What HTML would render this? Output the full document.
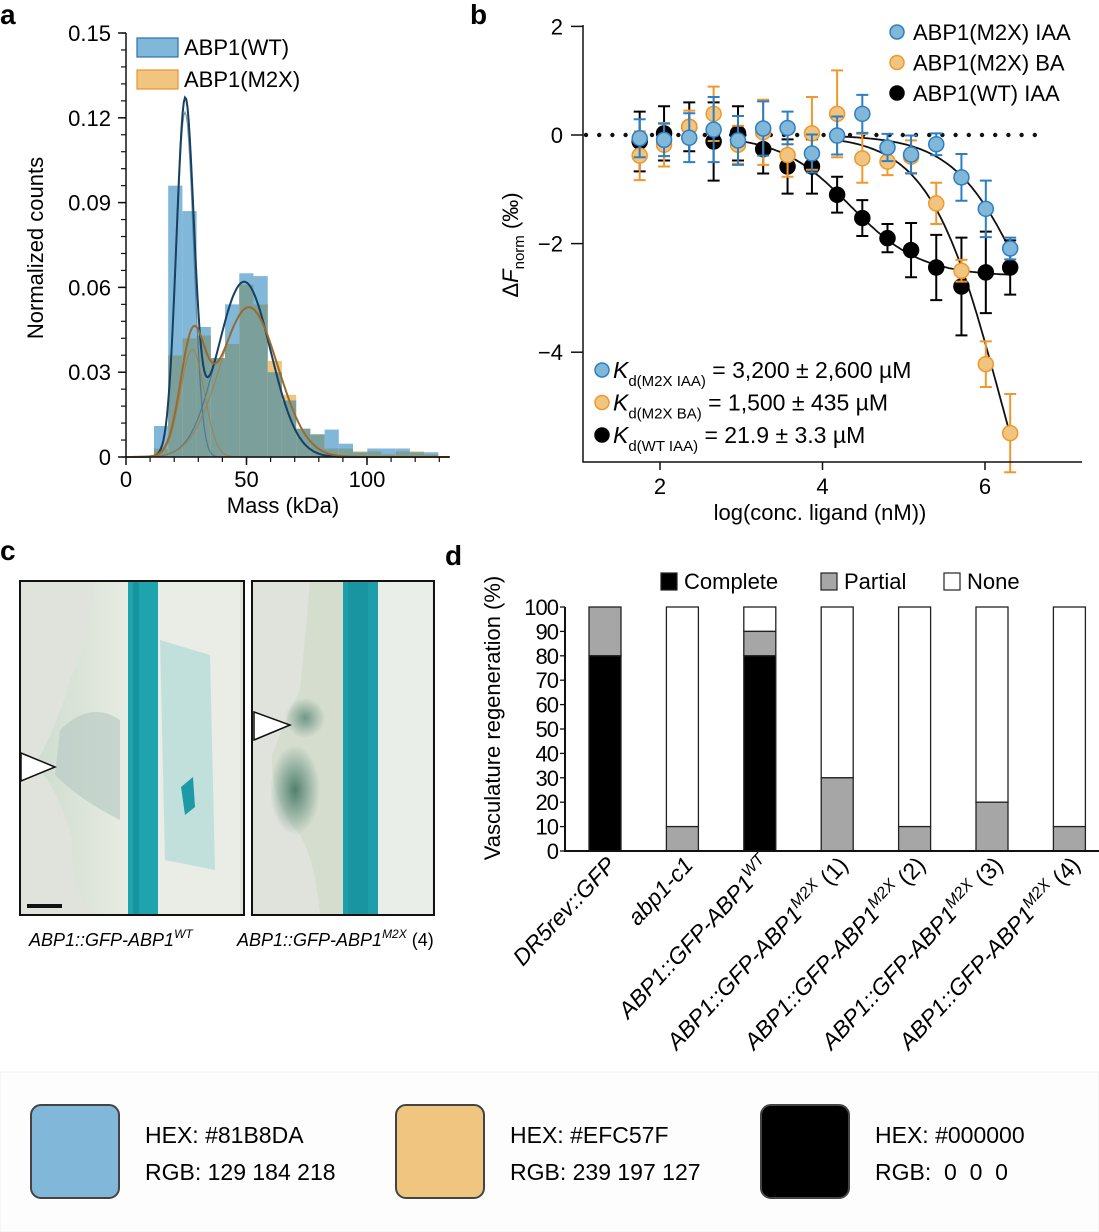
<!DOCTYPE html>
<html><head><meta charset="utf-8">
<style>
html,body{margin:0;padding:0;background:#fff;}
svg{display:block;font-family:"Liberation Sans",Arial,sans-serif;}
</style></head>
<body>
<svg id="fig" width="1099" height="1232" viewBox="0 0 1099 1232" xmlns="http://www.w3.org/2000/svg">
<g id="pa"></g>
<g id="pb"></g>
<g id="pc">
  <text x="0" y="560" font-size="28" font-weight="bold">c</text>
  <defs>
    <linearGradient id="bulgeL" x1="0" x2="1" y1="0" y2="0">
      <stop offset="0" stop-color="#cfdccf"/><stop offset="1" stop-color="#e7ece2"/>
    </linearGradient>
    <radialGradient id="darkR" cx="0.5" cy="0.5" r="0.5">
      <stop offset="0" stop-color="#2f6a55"/><stop offset="1" stop-color="#2f6a55" stop-opacity="0"/>
    </radialGradient>
  </defs>
  <g>
    <rect x="20" y="581" width="224" height="334" fill="#dfe3dc"/>
    <path d="M95 581 L128 581 L128 915 L90 915 Q70 880 72 840 Q60 790 35 765 Q60 720 70 680 Q90 640 95 581Z" fill="url(#bulgeL)"/>
    <path d="M60 730 Q90 700 120 720 L120 820 Q80 800 55 775Z" fill="#b9ccc4" opacity="0.7"/>
    <rect x="158" y="581" width="82" height="334" fill="#e9ede6"/>
    <path d="M160 640 L210 655 L215 870 L165 860Z" fill="#a6d7d6" opacity="0.6"/>
    <rect x="128" y="581" width="30" height="334" fill="#1fa3ad"/>
    <rect x="133" y="581" width="6" height="334" fill="#128a97" opacity="0.6"/>
    <path d="M181 787 l12 -10 l2 30 l-10 8z" fill="#1d9aa5"/>
    <rect x="20" y="581" width="224" height="334" fill="none" stroke="#111" stroke-width="2"/>
    <path d="M21 753 L55 767 L21 781 Z" fill="#fff" stroke="#111" stroke-width="1.5"/>
    <rect x="27" y="904" width="35" height="4" fill="#111"/>
  </g>
  <g>
    <rect x="252" y="581" width="182" height="334" fill="#dfe3dc"/>
    <path d="M310 581 L343 581 L343 915 L320 915 Q315 860 300 835 Q270 800 272 755 Q285 720 300 690 Q305 640 310 581Z" fill="#d5ddcf"/>
    <ellipse cx="295" cy="790" rx="25" ry="45" fill="url(#darkR)" opacity="0.8"/>
    <ellipse cx="305" cy="718" rx="20" ry="20" fill="url(#darkR)" opacity="0.6"/>
    <rect x="378" y="581" width="54" height="334" fill="#eaeee8"/>
    <rect x="343" y="581" width="35" height="334" fill="#1d9ea9"/>
    <rect x="348" y="581" width="20" height="334" fill="#17909c" opacity="0.6"/>
    <rect x="252" y="581" width="182" height="334" fill="none" stroke="#111" stroke-width="2"/>
    <path d="M254 712 L290 725 L254 740 Z" fill="#fff" stroke="#111" stroke-width="1.5"/>
  </g>
  <text x="29" y="946" font-size="18" font-style="italic">ABP1::GFP-ABP1<tspan font-size="12" dy="-8">WT</tspan></text>
  <text x="237" y="946" font-size="18" font-style="italic">ABP1::GFP-ABP1<tspan font-size="12" dy="-8">M2X</tspan><tspan dy="8" font-style="normal"> (4)</tspan></text>
</g>
<g id="pd"></g>
<g id="sw">
  <rect x="0" y="1072" width="1099" height="160" fill="#fdfdfd" stroke="#f0f0f0"/>
  <rect x="31" y="1105" width="88" height="93" rx="10" fill="#81B8DA" stroke="#444" stroke-width="2"/>
  <text x="145" y="1143" font-size="23">HEX: #81B8DA</text>
  <text x="145" y="1180" font-size="23">RGB: 129 184 218</text>
  <rect x="396" y="1105" width="88" height="93" rx="10" fill="#EFC57F" stroke="#444" stroke-width="2"/>
  <text x="510" y="1143" font-size="23">HEX: #EFC57F</text>
  <text x="510" y="1180" font-size="23">RGB: 239 197 127</text>
  <rect x="761" y="1105" width="88" height="93" rx="10" fill="#000000" stroke="#444" stroke-width="2"/>
  <text x="875" y="1143" font-size="23">HEX: #000000</text>
  <text x="875" y="1180" font-size="23" xml:space="preserve">RGB:  0  0  0</text>
</g>
</svg>
<script>
// ---------- Panel a data ----------
const binStart = 11.6;
const binWidth = 5.9;
const wtCounts = [0.011,0.096,0.087,0.046,0.035,0.054,0.065,0.064,0.030,0.020,0.010,0.008,0.0097,0.0047,0.0017,0.003,0.003,0.003,0.0017,0.0017];
const m2xCounts = [0.003,0.036,0.042,0.043,0.035,0.040,0.061,0.054,0.034,0.022,0.010,0.008,0.003,0.003,0.002,0.002,0.001,0.002,0.002,0.001];
const wtFit = [[0.122,24.5,3.6],[0.062,49,11]];
const m2xFit = [[0.038,27.5,5],[0.053,51,12]];
const aYTicks = [0,0.03,0.06,0.09,0.12,0.15];
const aYLabels = ["0","0.03","0.06","0.09","0.12","0.15"];
const aXTicks = [0,50,100];
// ---------- Panel b data ----------
const logConc = [1.75,2.05,2.36,2.66,2.96,3.27,3.57,3.87,4.18,4.49,4.80,5.09,5.40,5.71,6.01,6.31];
const m2xIAA = [-0.06,-0.09,-0.05,0.10,-0.10,0.12,0.13,-0.34,-0.01,0.39,-0.23,-0.36,-0.17,-0.78,-1.36,-2.09];
const m2xIAAErr = [0.35,0.3,0.45,0.6,0.45,0.5,0.3,0.35,0.35,0.35,0.25,0.35,0.2,0.43,0.52,0.2];
const m2xBA = [-0.38,-0.18,0.15,0.39,-0.18,0.05,-0.37,0.03,0.39,-0.43,-0.49,-0.40,-1.26,-2.50,-4.22,-5.49];
const m2xBAErr = [0.45,0.4,0.3,0.5,0.35,0.6,0.4,0.67,0.8,0.45,0.25,0.3,0.38,0.2,0.42,0.72];
const wtIAA = [-0.12,0.03,0.15,-0.12,0.03,-0.26,-0.58,-0.58,-1.10,-1.53,-1.90,-2.12,-2.44,-2.79,-2.53,-2.44];
const wtIAAErr = [0.55,0.5,0.45,0.72,0.5,0.45,0.5,0.5,0.33,0.33,0.26,0.5,0.6,0.9,0.75,0.5];
const fitLogKd = [6.5,6.18,4.34];
const fitAmp = [-5.4,-9.6,-2.6];
const bYTicks = [2,0,-2,-4];
const bYLabels = ["2","0","\u22122","\u22124"];
const bXTicks = [2,4,6];
// ---------- Panel d data ----------
const genotypes = ["DR5rev::GFP","abp1-c1","ABP1::GFP-ABP1|WT","ABP1::GFP-ABP1|M2X| (1)","ABP1::GFP-ABP1|M2X| (2)","ABP1::GFP-ABP1|M2X| (3)","ABP1::GFP-ABP1|M2X| (4)"];
const complete = [80,0,80,0,0,0,0];
const partial = [20,10,10,30,10,20,10];
const dYTicks = [0,10,20,30,40,50,60,70,80,90,100];

const NS="http://www.w3.org/2000/svg";
function mk(parent, tag, attrs, txt){
  const e=document.createElementNS(NS,tag);
  for(const k in attrs) e.setAttribute(k,attrs[k]);
  if(txt!==undefined) e.textContent=txt;
  parent.appendChild(e); return e;
}

// ===== Panel a =====
(function(){
  const g=document.getElementById('pa');
  const X=v=>126+v*2.41, Y=v=>457-v*2826.7;
  let e=mk(g,'text',{x:0,y:24,'font-size':28,'font-weight':'bold'},'a');
   
  for(let i=0;i<wtCounts.length;i++){
    const x0=X(binStart+i*binWidth), w=binWidth*2.41;
    const b=wtCounts[i], o=m2xCounts[i], m=Math.min(b,o);
    e=mk(g,'rect',{x:x0,y:Y(b),width:w,height:Y(0)-Y(b),fill:'#81b8da'});
     
    e=mk(g,'rect',{x:x0,y:Y(o),width:w,height:Y(0)-Y(o),fill:'#efc57f'});
     
    e=mk(g,'rect',{x:x0,y:Y(m),width:w,height:Y(0)-Y(m),fill:'#7b9f9b'});
     
  }
  function gauss(p,v){return p[0]*Math.exp(-Math.pow(v-p[1],2)/(2*p[2]*p[2]));}
  function curve(fn,color,width,op,name){
    let d='';
    for(let v=0;v<=134;v+=0.5){d+=(v===0?'M':'L')+X(v).toFixed(1)+' '+Y(fn(v)).toFixed(1)+' ';}
    const c=mk(g,'path',{d:d,fill:'none',stroke:color,'stroke-width':width,opacity:op});
     
  }
  wtFit.forEach(p=>curve(v=>gauss(p,v),'#3d6a8a',1.2,0.7,'fit-component-wt'));
  m2xFit.forEach(p=>curve(v=>gauss(p,v),'#a67a3f',1.2,0.7,'fit-component-m2x'));
  curve(v=>gauss(wtFit[0],v)+gauss(wtFit[1],v),'#163f60',2,1,'fit-total-wt');
  curve(v=>gauss(m2xFit[0],v)+gauss(m2xFit[1],v),'#9b6a2c',2,1,'fit-total-m2x');
  e=mk(g,'path',{d:'M126 33 V457 H450',fill:'none',stroke:'#111','stroke-width':1.5});
   
  for(let v=0;v<=0.1501;v+=0.006){
    e=mk(g,'line',{x1:121,x2:126,y1:Y(v),y2:Y(v),stroke:'#111','stroke-width':1.2});
     
  }
  aYTicks.forEach((v,i)=>{
    e=mk(g,'line',{x1:118,x2:126,y1:Y(v),y2:Y(v),stroke:'#111','stroke-width':1.5});
     
    e=mk(g,'text',{x:111,y:Y(v)+8,'font-size':22,'text-anchor':'end'},aYLabels[i]);
     
  });
  for(let v=10;v<=130;v+=10){
    e=mk(g,'line',{x1:X(v),x2:X(v),y1:457,y2:462,stroke:'#111','stroke-width':1.2});
     
  }
  aXTicks.forEach(v=>{
    e=mk(g,'line',{x1:X(v),x2:X(v),y1:457,y2:465,stroke:'#111','stroke-width':1.5});
     
    e=mk(g,'text',{x:X(v),y:487,'font-size':22,'text-anchor':'middle'},String(v));
     
  });
  e=mk(g,'text',{x:283,y:513,'font-size':22,'text-anchor':'middle'},'Mass (kDa)');
   
  e=mk(g,'text',{x:0,y:0,'font-size':22,'text-anchor':'middle',transform:'translate(43,248) rotate(-90)'},'Normalized counts');
   
  e=mk(g,'rect',{x:137,y:38,width:41,height:19,fill:'#81b8da',stroke:'#2a72b5','stroke-width':1.2});
   
  e=mk(g,'text',{x:184,y:55,'font-size':22},'ABP1(WT)');
   
  e=mk(g,'rect',{x:137,y:70,width:41,height:19,fill:'#efc57f',stroke:'#e8922e','stroke-width':1.2});
   
  e=mk(g,'text',{x:184,y:87,'font-size':22},'ABP1(M2X)');
   
})();

// ===== Panel b =====
(function(){
  const g=document.getElementById('pb');
  const X=u=>660+(u-2)*81.25, Y=v=>135-v*54.3;
  let e=mk(g,'text',{x:470,y:24,'font-size':28,'font-weight':'bold'},'b');
   
  for(let x=586;x<=1046;x+=13.2){
    e=mk(g,'circle',{cx:x,cy:Y(0),r:2.2,fill:'#111'});
     
  }
  for(let s=0;s<3;s++){
    let d='';
    const x0 = s===2?3.0:4.2;
    for(let u=x0;u<=6.32;u+=0.02){
      const c=Math.pow(10,u-fitLogKd[s]);
      d+=(d?'L':'M')+X(u).toFixed(1)+' '+Y(fitAmp[s]*c/(1+c)).toFixed(1)+' ';
    }
    e=mk(g,'path',{d:d,fill:'none',stroke:'#111','stroke-width':1.8});
     
  }
  const series=[[wtIAA,wtIAAErr,'#000','#000','wt-iaa'],[m2xBA,m2xBAErr,'#efc57f','#f0982e','m2x-ba'],[m2xIAA,m2xIAAErr,'#81b8da','#2d7fc2','m2x-iaa']];
  series.forEach(sr=>{
    const vals=sr[0], errs=sr[1];
    logConc.forEach((u,i)=>{
      const x=X(u), y1=Y(vals[i]+errs[i]), y2=Y(vals[i]-errs[i]);
      e=mk(g,'path',{d:`M${x} ${y1} V${y2} M${x-6} ${y1} H${x+6} M${x-6} ${y2} H${x+6}`,stroke:sr[3],'stroke-width':2,fill:'none'});
       
    });
    logConc.forEach((u,i)=>{
      e=mk(g,'circle',{cx:X(u),cy:Y(vals[i]),r:7.5,fill:sr[2],stroke:sr[3],'stroke-width':1.5});
       
    });
  });
  e=mk(g,'path',{d:'M583 25 V462 H1082',fill:'none',stroke:'#111','stroke-width':1.5});
   
  bYTicks.forEach((v,i)=>{
    e=mk(g,'line',{x1:571,x2:583,y1:Y(v),y2:Y(v),stroke:'#111','stroke-width':1.5});
     
    e=mk(g,'text',{x:563,y:Y(v)+8,'font-size':22,'text-anchor':'end'},bYLabels[i]);
     
  });
  bXTicks.forEach(v=>{
    e=mk(g,'line',{x1:X(v),x2:X(v),y1:462,y2:470,stroke:'#111','stroke-width':1.5});
     
    e=mk(g,'text',{x:X(v),y:494,'font-size':22,'text-anchor':'middle'},String(v));
     
  });
  e=mk(g,'text',{x:820,y:520,'font-size':22,'text-anchor':'middle'},'log(conc. ligand (nM))');
   
  const yt=mk(g,'text',{x:0,y:0,'font-size':22,'text-anchor':'middle',transform:'translate(518,245) rotate(-90)'});
  yt.innerHTML='Δ<tspan font-style="italic">F</tspan><tspan font-size="15" dy="6">norm</tspan><tspan dy="-6"> (‰)</tspan>';
   
  const leg=[['ABP1(M2X) IAA','#81b8da','#2d7fc2'],['ABP1(M2X) BA','#efc57f','#f0982e'],['ABP1(WT) IAA','#000','#000']];
  leg.forEach((l,i)=>{
    e=mk(g,'circle',{cx:897,cy:32+i*30.5,r:7,fill:l[1],stroke:l[2],'stroke-width':1.5});
     
    e=mk(g,'text',{x:913,y:40+i*30.5,'font-size':22},l[0]);
     
  });
  const kd=[['d(M2X IAA)',' = 3,200 ± 2,600 µM','#81b8da','#2d7fc2'],['d(M2X BA)',' = 1,500 ± 435 µM','#efc57f','#f0982e'],['d(WT IAA)',' = 21.9 ± 3.3 µM','#000','#000']];
  kd.forEach((k,i)=>{
    const y=370+i*32.5;
    e=mk(g,'circle',{cx:602,cy:y,r:7,fill:k[2],stroke:k[3],'stroke-width':1.5});
     
    const t=mk(g,'text',{x:613,y:y+8,'font-size':23});
    t.innerHTML='<tspan font-style="italic">K</tspan><tspan font-size="15" dy="8">'+k[0]+'</tspan><tspan dy="-8">'+k[1]+'</tspan>';
     
  });
})();

// ===== Panel d =====
(function(){
  const g=document.getElementById('pd');
  const Y=v=>851-v*2.44, X=i=>605+i*77.4, W=32;
  let e=mk(g,'text',{x:445,y:565,'font-size':28,'font-weight':'bold'},'d');
   
  genotypes.forEach((name,i)=>{
    const x=X(i)-W/2, c=complete[i], p=partial[i];
    e=mk(g,'rect',{x:x,y:Y(100),width:W,height:Y(c+p)-Y(100),fill:'#fff',stroke:'#222','stroke-width':1.3});
     
    if(p>0){e=mk(g,'rect',{x:x,y:Y(c+p),width:W,height:Y(c)-Y(c+p),fill:'#a6a6a6',stroke:'#222','stroke-width':1.3});
     }
    if(c>0){e=mk(g,'rect',{x:x,y:Y(c),width:W,height:Y(0)-Y(c),fill:'#000',stroke:'#222','stroke-width':1.3});
     }
    const parts=name.split('|');
    const t=mk(g,'text',{x:0,y:0,'font-size':23,'font-style':'italic','text-anchor':'end',transform:`translate(${X(i)+12},866) rotate(-47)`});
    let html=parts[0];
    if(parts[1]) html+='<tspan font-size="16" dy="-9">'+parts[1]+'</tspan>';
    if(parts[2]) html+='<tspan dy="9" font-style="normal">'+parts[2]+'</tspan>';
    t.innerHTML=html;
     
  });
  e=mk(g,'path',{d:'M565 607 V851 H1099',fill:'none',stroke:'#111','stroke-width':2});
   
  dYTicks.forEach(v=>{
    e=mk(g,'line',{x1:560,x2:565,y1:Y(v),y2:Y(v),stroke:'#111','stroke-width':1.3});
     
    e=mk(g,'text',{x:558,y:Y(v)+8,'font-size':22,'text-anchor':'end','letter-spacing':'-1'},String(v));
     
  });
  e=mk(g,'text',{x:0,y:0,'font-size':22,'text-anchor':'middle',transform:'translate(500,718) rotate(-90)'},'Vasculature regeneration (%)');
   
  const leg=[['Complete','#000',661],['Partial','#a6a6a6',821],['None','#fff',944]];
  leg.forEach(l=>{
    e=mk(g,'rect',{x:l[2],y:573,width:16,height:17,fill:l[1],stroke:'#222','stroke-width':1.2});
     
    e=mk(g,'text',{x:l[2]+23,y:589,'font-size':22},l[0]);
     
  });
})();
</script>
</body></html>
